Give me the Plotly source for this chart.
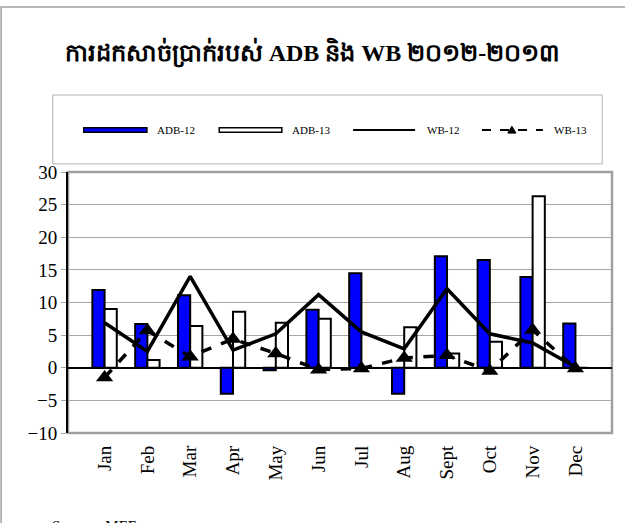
import plotly.graph_objects as go

months = ["Jan", "Feb", "Mar", "Apr", "May", "Jun", "Jul", "Aug", "Sept", "Oct", "Nov", "Dec"]
adb12 = [11.9, 6.7, 11.1, -4.0, -0.4, 8.9, 14.5, -4.0, 17.1, 16.5, 13.9, 6.8]
adb13 = [9.0, 1.2, 6.4, 8.6, 6.9, 7.5, 0.0, 6.2, 2.2, 4.0, 26.3, 0.0]
wb12 = [6.9, 2.5, 14.0, 2.7, 5.2, 11.2, 5.5, 2.9, 12.1, 5.2, 3.8, 0.1]
wb13 = [-1.5, 5.7, 1.7, 4.4, 2.2, -0.3, -0.1, 1.5, 1.9, -0.5, 5.8, -0.1]
yticks = [-10, -5, 0, 5, 10, 15, 20, 25, 30]
series_names = ["ADB-12", "ADB-13", "WB-12", "WB-13"]

title = "ការដកសាច់ប្រាក់របស់ ADB និង WB ២០១២-២០១៣"
serif = "Liberation Serif, Times New Roman, serif"

fig = go.Figure()
fig.add_trace(go.Bar(x=months, y=adb12, name=series_names[0], marker=dict(color="#0000FF", line=dict(color="black", width=2))))
fig.add_trace(go.Bar(x=months, y=adb13, name=series_names[1], marker=dict(color="white", line=dict(color="black", width=2))))
fig.add_trace(go.Scatter(x=months, y=wb12, name=series_names[2], mode="lines", line=dict(color="black", width=3.5)))
fig.add_trace(go.Scatter(x=months, y=wb13, name=series_names[3], mode="lines+markers",
                         line=dict(color="black", width=3.5, dash="dash"),
                         marker=dict(symbol="triangle-up", size=15, color="black")))

# custom legend (decoration, in paper coordinates)
ly = 1.161
shapes = [
    dict(type="rect", xref="paper", yref="paper", x0=0, x1=1, y0=0, y1=1,
         line=dict(color="#A0A0A0", width=2.5), layer="below"),
    dict(type="rect", xref="paper", yref="paper", x0=-0.028, x1=0.982, y0=1.031, y1=1.295,
         line=dict(color="#B0B0B0", width=1)),
    dict(type="rect", xref="paper", yref="paper", x0=-0.123, x1=1.05, y0=-0.6, y1=1.632,
         line=dict(color="#A0A0A0", width=1.5)),
    dict(type="rect", xref="paper", yref="paper", x0=0.029, x1=0.145, y0=ly - 0.009, y1=ly + 0.009,
         fillcolor="#0000FF", line=dict(color="black", width=1.5)),
    dict(type="rect", xref="paper", yref="paper", x0=0.278, x1=0.393, y0=ly - 0.009, y1=ly + 0.009,
         fillcolor="white", line=dict(color="black", width=1.5)),
    dict(type="line", xref="paper", yref="paper", x0=0.524, x1=0.638, y0=ly, y1=ly,
         line=dict(color="black", width=2)),
    dict(type="line", xref="paper", yref="paper", x0=0.761, x1=0.873, y0=ly, y1=ly,
         line=dict(color="black", width=2, dash="dash")),
    dict(type="path", xref="paper", yref="paper",
         path=f"M 0.8085 {ly - 0.012} L 0.8235 {ly - 0.012} L 0.816 {ly + 0.014} Z",
         fillcolor="black", line=dict(color="black", width=1)),
]
legend_text_x = [0.160, 0.408, 0.656, 0.890]
annotations = [dict(text=n, xref="paper", yref="paper", x=tx, y=ly, xanchor="left", yanchor="middle",
                    showarrow=False, font=dict(family=serif, size=11, color="black"))
               for n, tx in zip(series_names, legend_text_x)]
annotations.append(dict(text="Source : MEF", xref="paper", yref="paper", x=-0.033, y=-0.318,
                        xanchor="left", yanchor="top", showarrow=False,
                        font=dict(family=serif, size=15, color="black")))

fig.update_layout(
    width=625, height=523,
    margin=dict(l=68, r=13, t=172, b=90, autoexpand=False),
    paper_bgcolor="white", plot_bgcolor="white",
    barmode="group", bargap=0.43, bargroupgap=0,
    showlegend=False,
    font=dict(family=serif, color="black"),
    title=dict(text="<b>" + title + "</b>", x=0.5, xanchor="center", y=0.9, yanchor="middle",
               font=dict(family="Liberation Serif, Noto Sans, serif", size=24, color="black")),
    xaxis=dict(tickangle=-90, tickfont=dict(family=serif, size=19, color="black"),
               showline=False, showgrid=False, ticks="", ticklabelstandoff=8),
    yaxis=dict(range=[-10, 30], tickvals=yticks, tickfont=dict(family=serif, size=19, color="black"),
               showgrid=True, gridcolor="#A6A6A6", gridwidth=1,
               zeroline=True, zerolinecolor="black", zerolinewidth=1.5,
               showline=True, linecolor="black", linewidth=2, ticks="outside", ticklen=5, tickcolor="#A6A6A6"),
    shapes=shapes,
    annotations=annotations,
)

fig.write_html("out.html", config={"displayModeBar": False},
               post_script="document.body.style.margin='0';")
